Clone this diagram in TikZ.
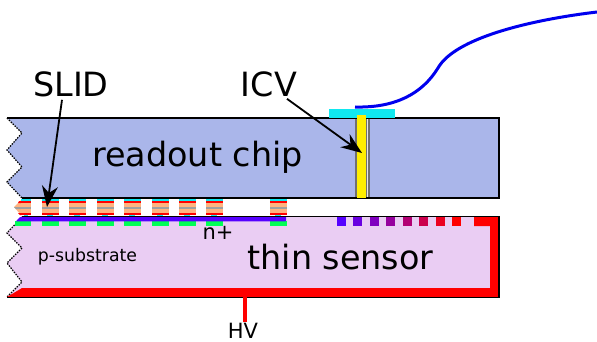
\documentclass[tikz,border=0pt]{standalone}
\usepackage{fontspec}
\setmainfont{DejaVu Sans}
\usetikzlibrary{arrows.meta}
\definecolor{chipc}{HTML}{AAB6EA}
\definecolor{sensc}{HTML}{EACDF3}
\definecolor{orng}{HTML}{FFB380}
\definecolor{cyn}{HTML}{10E8F0}
\definecolor{grn}{HTML}{00FF55}
\definecolor{blu}{HTML}{5500FF}
\definecolor{wire}{HTML}{0000EE}
\definecolor{yel}{HTML}{FFEE00}
\definecolor{gry}{HTML}{A0A0A0}
\tikzset{
  lab/.style={inner sep=0pt,text=black},
  big/.style={lab,font=\fontsize{33.4}{36}\selectfont},
  mid/.style={lab,font=\fontsize{17.3}{20}\selectfont},
  small/.style={lab,font=\fontsize{21}{24}\selectfont},
  call/.style={-{Stealth[length=21pt,width=16pt]},line width=1.8pt},
  edge/.style={line width=1.2pt,black},
  zig/.style={line width=1.2pt,black,dash pattern=on 1.5pt off 1.2pt},
}
\begin{document}
\begin{tikzpicture}[x=1pt,y=1pt]
\useasboundingbox (0,0) rectangle (597,-342);
% readout chip
\fill[chipc] (7,-118) -- (22,-133) -- (7,-150) -- (22,-167) -- (7,-182) -- (22,-198) -- (499,-198) -- (499,-118) -- cycle;
\draw[zig] (7,-118) -- (22,-133) -- (7,-150) -- (22,-167) -- (7,-182) -- (22,-198);
% sensor
\fill[sensc] (22,-217) -- (7,-233) -- (22,-248) -- (7,-263) -- (22,-282) -- (7,-297) -- (499,-297) -- (499,-217) -- cycle;
\draw[zig] (22,-217) -- (7,-233) -- (22,-248) -- (7,-263) -- (22,-282) -- (7,-297);
% sensor HV contact
\fill[red] (7,-297) -- (22,-288) -- (490,-288) -- (490,-226) -- (474,-226) -- (474,-217) -- (499,-217) -- (499,-297) -- cycle;
% guard rings
\foreach \x/\c in {337/blu,353/blu!88!red,370/blu!75!red,386/blu!62!red,403/blu!45!red,419/blu!30!red,436/blu!12!red,452/red}
  \fill[\c] (\x,-217) rectangle (\x+9,-226);
% SLID bumps
\fill[orng] (14,-207) -- (21,-200) -- (21,-215) -- cycle;
\fill[gry] (14,-207) -- (16,-209) -- (21,-209) -- (21,-207) -- cycle;
\fill[red] (19,-201) -- (21,-201) -- (21,-203) -- (18,-203) -- cycle;
\fill[red] (18,-213) -- (21,-213) -- (21,-215) -- (20,-215) -- cycle;
\fill[cyn] (21,-199) rectangle (31,-201);
\fill[red] (21,-201) rectangle (31,-203);
\fill[orng] (21,-203) rectangle (31,-213);
\fill[gry] (21,-207) rectangle (31,-209);
\fill[red] (21,-213) rectangle (31,-215);
\fill[cyn] (24,-215) rectangle (28,-216.5);
\fill[grn] (15,-221) rectangle (31,-226);
\foreach \x in {42,69,97,124,152,179,206,270}{
  \fill[cyn] (\x,-199) rectangle (\x+17,-201);
  \fill[red] (\x,-201) rectangle (\x+17,-203);
  \fill[orng] (\x,-203) rectangle (\x+17,-213);
  \fill[gry] (\x,-207) rectangle (\x+17,-209);
  \fill[red] (\x,-213) rectangle (\x+17,-215);
  \fill[cyn] (\x+5,-215) rectangle (\x+11,-216.5);
  \fill[grn] (\x,-221) rectangle (\x+17,-226);
}
% metal strip
\fill[blu] (20,-217) -- (16,-221.3) -- (286,-221.3) -- (286,-217) -- cycle;
% outlines
\draw[edge] (7,-118) -- (499,-118) -- (499,-198) -- (22,-198);
\draw[edge] (22,-216.5) -- (499,-216.5) -- (499,-297.3) -- (7,-297.3);
% ICV
\fill[gry!70!black] (354.5,-118) rectangle (356.5,-198);
\fill[gry!70!black] (366,-118) rectangle (369.5,-198);
\fill[white!75!gry] (367,-118) rectangle (368.2,-198);
\draw[edge] (354.5,-118) -- (369.5,-118);
\draw[edge] (354.5,-198) -- (369.5,-198);
\fill[cyn] (329,-109) rectangle (395,-118);
\fill[yel] (357,-115) rectangle (366,-198);
% wire bond
\coordinate (bondA) at (355,-107);
\coordinate (bondB) at (597,-12);
\draw[line width=3pt,wire] (bondA) .. controls (395,-108) and (422,-94) .. (438,-68) .. controls (455,-38) and (530,-20) .. (bondB);
% HV wire
\coordinate (hvtop) at (245,-297);
\node[small] (hv) at (243,-331) {HV};
\draw[red,line width=4pt] (hvtop) -- (245,-322);
% labels
\node[big] (ro) at (197.5,-157) {readout chip};
\node[big] (ts) at (340.5,-257) {thin sensor};
\node[mid] (ps) at (87.5,-257) {p-substrate};
\node[small] (np) at (218,-233) {n+};
\node[big] (slid) at (71,-84) {SLID};
\node[big] (icv) at (269,-84) {ICV};
\coordinate (slidT) at (47,-207);
\coordinate (icvT) at (362,-153);
\draw[call] (slid.south) ++(-9,-3) -- (slidT);
\draw[call] (icv.south) ++(18,-2) -- (icvT);
\end{tikzpicture}
\end{document}
